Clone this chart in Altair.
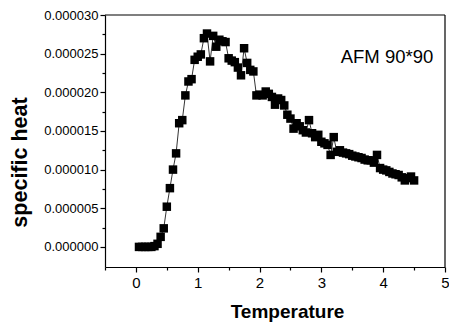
import altair as alt
import pandas as pd

temperature = [0.05, 0.10, 0.15, 0.20, 0.25, 0.30, 0.35, 0.40, 0.45, 0.50,
               0.55, 0.60, 0.65, 0.70, 0.75, 0.80, 0.85, 0.90, 0.95, 1.00,
               1.05, 1.10, 1.15, 1.20, 1.25, 1.30, 1.35, 1.40, 1.45, 1.50,
               1.55, 1.60, 1.65, 1.70, 1.75, 1.80, 1.85, 1.90, 1.95, 2.00,
               2.05, 2.10, 2.15, 2.20, 2.25, 2.30, 2.35, 2.40, 2.45, 2.50,
               2.55, 2.60, 2.65, 2.70, 2.75, 2.80, 2.85, 2.90, 2.95, 3.00,
               3.05, 3.10, 3.15, 3.20, 3.25, 3.30, 3.35, 3.40, 3.45, 3.50,
               3.55, 3.60, 3.65, 3.70, 3.75, 3.80, 3.85, 3.90, 3.95, 4.00,
               4.05, 4.10, 4.15, 4.20, 4.25, 4.30, 4.35, 4.40, 4.45, 4.50]

# specific heat in units of 1e-6
heat_e6 = [0.0, 0.0, 0.0, 0.0, 0.0, 0.1, 0.4, 1.3, 2.4, 5.2,
           7.6, 10.0, 12.1, 16.0, 16.4, 19.6, 21.4, 21.7, 24.2, 24.6,
           24.9, 27.0, 27.6, 24.0, 27.3, 25.9, 26.8, 26.6, 26.5, 24.4,
           24.1, 23.9, 23.2, 22.2, 25.7, 23.8, 22.9, 22.7, 19.6, 19.7,
           19.6, 20.1, 19.8, 19.4, 18.4, 19.2, 19.0, 18.3, 17.1, 16.6,
           15.3, 16.0, 15.6, 15.1, 14.8, 16.4, 14.7, 14.2, 14.5, 13.6,
           13.4, 13.2, 11.9, 14.2, 12.3, 12.5, 12.2, 12.1, 12.0, 11.8,
           11.7, 11.6, 11.5, 11.3, 11.2, 11.2, 10.9, 11.9, 10.2, 10.0,
           9.9, 9.7, 9.5, 9.4, 9.3, 9.0, 8.6, 8.9, 9.1, 8.6]

x_major = [0, 1, 2, 3, 4, 5]
x_minor = [-0.5, 0.5, 1.5, 2.5, 3.5, 4.5]
y_major_e6 = [0, 5, 10, 15, 20, 25, 30]
y_minor_e6 = [2.5, 7.5, 12.5, 17.5, 22.5, 27.5]

x_range = [-0.5, 5.0]
y_range_e6 = [-2.6, 30.0]

label_text = ["AFM 90*90"]
label_t = [4.81]
label_c_e6 = [23.8]

df = pd.DataFrame({"T": temperature, "C": [v * 1e-6 for v in heat_e6]})
lab = pd.DataFrame({"T": label_t, "C": [v * 1e-6 for v in label_c_e6], "txt": label_text})
frame = pd.DataFrame({"T": [x_range[0]], "T2": [x_range[1]],
                      "C": [y_range_e6[0] * 1e-6], "C2": [y_range_e6[1] * 1e-6]})

FONT = "Liberation Sans"

xscale = alt.Scale(domain=x_range, nice=False, zero=False)
yscale = alt.Scale(domain=[v * 1e-6 for v in y_range_e6], nice=False, zero=False)

common = dict(grid=False, domainColor="black", tickColor="black", labelColor="black",
              titleColor="black", domainWidth=1.2, tickWidth=1.2)

xaxis = alt.Axis(
    orient="bottom", values=x_major, format="d", tickSize=5, labelOverlap=False,
    title="Temperature",
    titleFontSize=19, titleFontWeight="bold", titleFont=FONT,
    titleX=182, titleY=50, titleBaseline="alphabetic", titleAnchor="middle",
    labelFont=FONT, labelFontSize=15, labelPadding=3, labelFlush=False,
    **common,
)
yaxis = alt.Axis(
    orient="left", values=[v * 1e-6 for v in y_major_e6], format=".6f", tickSize=5,
    labelOverlap=False,
    title="specific heat",
    titleFontSize=21.5, titleFontWeight="bold", titleFont=FONT,
    titleX=-79, titleY=147, titleAngle=270, titleBaseline="alphabetic", titleAnchor="middle",
    labelFont=FONT, labelFontSize=13, labelPadding=2, labelFlush=False,
    **common,
)

x_minor_axis = alt.Axis(orient="bottom", values=x_minor, tickSize=3, labels=False,
                        domain=False, title=None, grid=False, tickColor="black", tickWidth=1.2)
y_minor_axis = alt.Axis(orient="left", values=[v * 1e-6 for v in y_minor_e6], tickSize=3,
                        labels=False, domain=False, title=None, grid=False,
                        tickColor="black", tickWidth=1.2)

X = alt.X("T:Q", scale=xscale, axis=xaxis)
Y = alt.Y("C:Q", scale=yscale, axis=yaxis)

top_edge = alt.Chart(frame).mark_rule(color="black", strokeWidth=1.2).encode(
    x=X, x2=alt.X2("T2"), y=alt.Y("C2:Q", scale=yscale, axis=yaxis)
)
right_edge = alt.Chart(frame).mark_rule(color="black", strokeWidth=1.2).encode(
    x=alt.X("T2:Q", scale=xscale, axis=xaxis), y=Y, y2=alt.Y2("C2")
)
line = alt.Chart(df).mark_line(color="black", strokeWidth=0.8).encode(x=X, y=Y)
pts = alt.Chart(df).mark_point(shape="square", filled=True, size=72, color="black",
                               opacity=1).encode(x=X, y=Y)
txt = alt.Chart(lab).mark_text(
    align="right", baseline="alphabetic", font=FONT, fontSize=18.5, color="black"
).encode(x=X, y=Y, text="txt:N")

data_layer = alt.layer(top_edge, right_edge, line, pts, txt)

minor_layer = alt.Chart(df).mark_point(opacity=0).encode(
    x=alt.X("T:Q", scale=xscale, axis=x_minor_axis),
    y=alt.Y("C:Q", scale=yscale, axis=y_minor_axis),
)

chart = alt.layer(data_layer, minor_layer).resolve_scale(
    x="independent", y="independent"
).resolve_axis(
    x="independent", y="independent"
).properties(
    width=340, height=252,
    autosize=alt.AutoSizeParams(type="none"),
    padding={"left": 105, "top": 15, "right": 4, "bottom": 62},
    background="white",
).configure_view(stroke=None)

chart.save("out.html", embed_options={"renderer": "svg", "actions": False})
